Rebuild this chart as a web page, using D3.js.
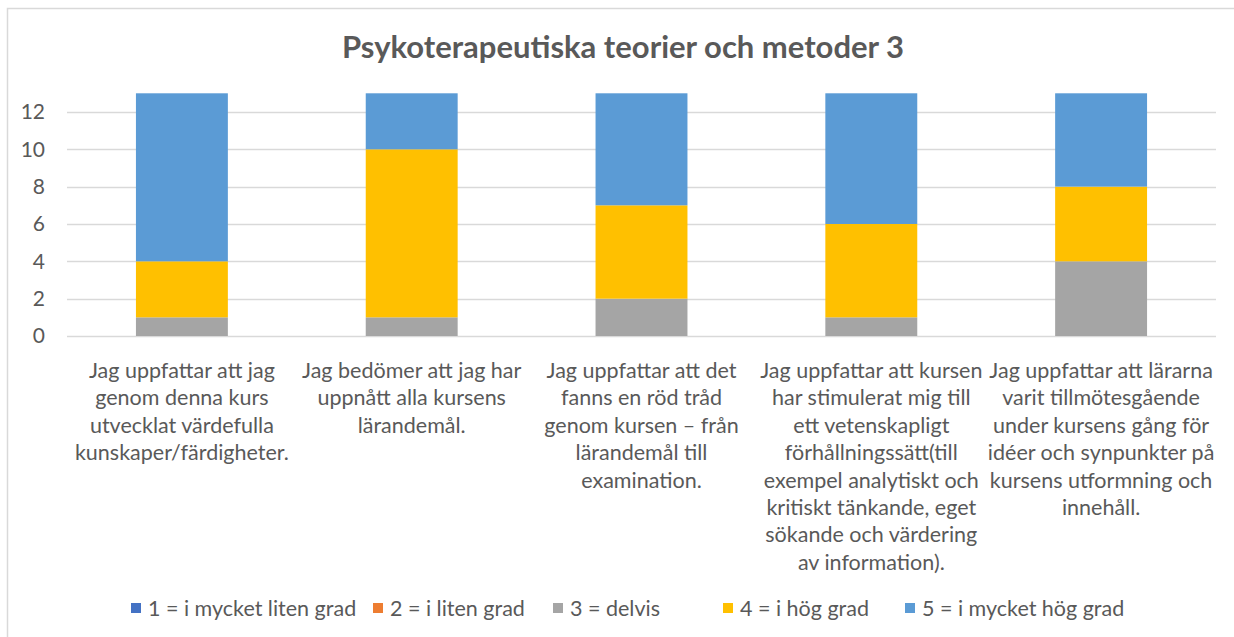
<!DOCTYPE html>
<html>
<head>
<meta charset="utf-8">
<script src="https://cdn.jsdelivr.net/npm/d3@7"></script>
<style>
  body { margin: 0; background: #fff; }
  svg text { font-family: Lato, "Open Sans", sans-serif; fill: #595959; }
</style>
</head>
<body>
<div id="chart"></div>
<script>
// chart data
var title = "Psykoterapeutiska teorier och metoder 3";
var categories = [
  ["Jag uppfattar att jag", "genom denna kurs", "utvecklat värdefulla", "kunskaper/färdigheter."],
  ["Jag bedömer att jag har", "uppnått alla kursens", "lärandemål."],
  ["Jag uppfattar att det", "fanns en röd tråd", "genom kursen – från", "lärandemål till", "examination."],
  ["Jag uppfattar att kursen", "har stimulerat mig till", "ett vetenskapligt", "förhållningssätt(till", "exempel analytiskt och", "kritiskt tänkande, eget", "sökande och värdering", "av information)."],
  ["Jag uppfattar att lärarna", "varit tillmötesgående", "under kursens gång för", "idéer och synpunkter på", "kursens utformning och", "innehåll."]
];
var seriesNames = ["1 = i mycket liten grad", "2 = i liten grad", "3 = delvis", "4 = i hög grad", "5 = i mycket hög grad"];
var seriesColors = ["#4472C4", "#ED7D31", "#A5A5A5", "#FFC000", "#5B9BD5"];
var s1 = [0, 0, 0, 0, 0];
var s2 = [0, 0, 0, 0, 0];
var s3 = [1, 1, 2, 1, 4];
var s4 = [3, 9, 5, 5, 4];
var s5 = [9, 3, 6, 7, 5];
var yTicks = [0, 2, 4, 6, 8, 10, 12];

var W = 1234, H = 637;
var svg = d3.select("#chart").append("svg").attr("width", W).attr("height", H);

// outer border of the chart area (right/bottom fall outside the picture)
svg.append("rect")
  .attr("x", 7.5).attr("y", 8.5)
  .attr("width", 1300).attr("height", 700)
  .attr("fill", "none").attr("stroke", "#D9D9D9").attr("stroke-width", 1.5);

svg.append("text")
  .attr("x", 623).attr("y", 58)
  .attr("text-anchor", "middle")
  .style("font-size", "31px").style("font-weight", "bold")
  .text(title);

var table = categories.map(function(c, i) {
  return { idx: i, s1: s1[i], s2: s2[i], s3: s3[i], s4: s4[i], s5: s5[i] };
});
var keys = ["s1", "s2", "s3", "s4", "s5"];
var stacked = d3.stack().keys(keys)(table);

var x = d3.scaleBand().domain(d3.range(categories.length)).range([67, 1216]).paddingInner(0.6).paddingOuter(0.3);
var y = d3.scaleLinear().domain([0, 13]).range([336, 93.3]);

// gridlines
svg.append("g").selectAll("line").data(yTicks).enter().append("line")
  .attr("x1", 67).attr("x2", 1216)
  .attr("y1", d => Math.round(y(d)) + 0.5).attr("y2", d => Math.round(y(d)) + 0.5)
  .attr("stroke", "#D9D9D9").attr("stroke-width", 1.5);

var yAxis = svg.append("g").attr("transform", "translate(67,0)")
  .call(d3.axisLeft(y).tickValues(yTicks).tickSize(0).tickPadding(22));
yAxis.select(".domain").remove();
yAxis.selectAll("text").style("font-size", "21px").attr("fill", "#595959")
  .style("font-family", "Lato, sans-serif");

// bars
svg.append("g").selectAll("g").data(stacked).enter().append("g")
  .attr("fill", (d, i) => seriesColors[i])
  .selectAll("rect").data(d => d).enter().append("rect")
  .attr("x", d => x(d.data.idx))
  .attr("width", x.bandwidth())
  .attr("y", d => y(d[1]))
  .attr("height", d => y(d[0]) - y(d[1]));

// category labels
var labels = svg.append("g").selectAll("text").data(categories).enter().append("text")
  .attr("text-anchor", "middle")
  .style("font-size", "21.5px");
labels.selectAll("tspan").data((d, i) => d.map(function(t) { return { t: t, i: i }; }))
  .enter().append("tspan")
  .attr("x", d => x(d.i) + x.bandwidth() / 2)
  .attr("y", (d, j) => 378 + j * 27.4)
  .text(d => d.t);

// legend
var legendX = [131, 373, 553, 723, 905];
var legend = svg.append("g").selectAll("g").data(seriesNames).enter().append("g")
  .attr("transform", (d, i) => "translate(" + legendX[i] + ",608)");
legend.append("rect").attr("x", 0).attr("y", -5).attr("width", 10).attr("height", 10)
  .attr("fill", (d, i) => seriesColors[i]);
legend.append("text").attr("x", 17).attr("y", 7.5).style("font-size", "21.5px").text(d => d);
</script>
</body>
</html>
